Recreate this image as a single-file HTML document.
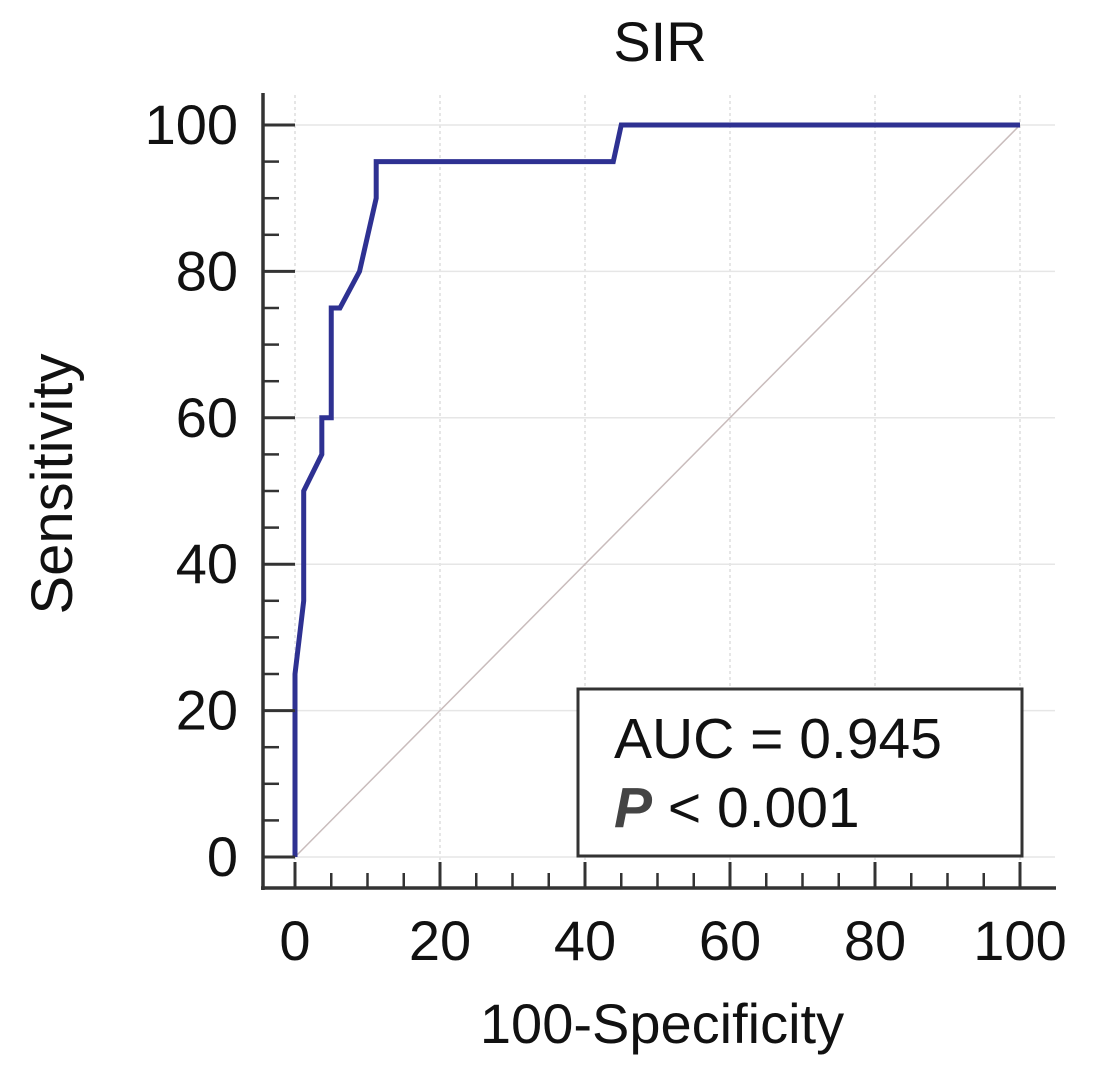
<!DOCTYPE html>
<html><head><meta charset="utf-8"><style>
html,body{margin:0;padding:0;background:#fff;}
svg{display:block;font-family:"Liberation Sans",Arial,sans-serif;}
</style></head><body>
<svg id="chart" width="1102" height="1084" viewBox="0 0 1102 1084" xmlns="http://www.w3.org/2000/svg">
<g id="grid"></g>
<line id="diag" stroke="#c9bcbc" stroke-width="1.5"/>
<polyline id="roc" fill="none" stroke="#2e3192" stroke-width="5" stroke-linejoin="miter"/>
<g id="axes"></g>
<text x="660" y="61" font-size="56" text-anchor="middle" fill="#111">SIR</text>
<text x="662" y="1043" font-size="56" text-anchor="middle" fill="#111">100-Specificity</text>
<text transform="translate(72,484) rotate(-90)" font-size="58" text-anchor="middle" fill="#111">Sensitivity</text>
<g>
<rect x="578" y="689" width="444" height="167" fill="#fff" stroke="#333" stroke-width="3"/>
<text x="614" y="758" font-size="57" fill="#111">AUC = 0.945</text>
<text x="614" y="827" font-size="57" fill="#111"><tspan font-style="italic" font-weight="bold" fill="#444">P</tspan> &lt; 0.001</text>
</g>
</svg>
<script>
const fprValues = [0, 0, 1.2, 1.2, 3.7, 3.7, 5.0, 5.0, 6.2, 8.9, 11.2, 11.2, 43.9, 45, 100];
const tprValues = [0, 25, 35, 50, 55, 60, 60, 75, 75, 80, 90, 95, 95, 100, 100];
const xTicks = [0, 20, 40, 60, 80, 100];
const yTicks = [0, 20, 40, 60, 80, 100];
const minorTicks = [5, 10, 15, 25, 30, 35, 45, 50, 55, 65, 70, 75, 85, 90, 95];

const NS = 'http://www.w3.org/2000/svg';
const xs = v => 295 + v * 7.25;
const ys = v => 857 - v * 7.32;
function mk(tag, attrs, parent) {
  const el = document.createElementNS(NS, tag);
  for (const k in attrs) el.setAttribute(k, attrs[k]);
  parent.appendChild(el);
  return el;
}
const grid = document.getElementById('grid');
const axes = document.getElementById('axes');
xTicks.forEach(t => {
  const g = mk('line', {x1: xs(t), x2: xs(t), y1: 95, y2: 887, stroke: '#ddd', 'stroke-width': 1.5, 'stroke-dasharray': '3,3'}, grid);
  
  
});
yTicks.forEach(t => {
  const g = mk('line', {x1: 263, x2: 1055, y1: ys(t), y2: ys(t), stroke: '#e6e6e6', 'stroke-width': 1.5}, grid);
  
  
});
const diag = document.getElementById('diag');
diag.setAttribute('x1', xs(0)); diag.setAttribute('y1', ys(0));
diag.setAttribute('x2', xs(100)); diag.setAttribute('y2', ys(100));
document.getElementById('roc').setAttribute('points', fprValues.map((f, i) => xs(f) + ',' + ys(tprValues[i])).join(' '));

const la = mk('line', {x1: 263, x2: 263, y1: 93, y2: 890, stroke: '#333', 'stroke-width': 3.5}, axes);


const ba = mk('line', {x1: 261, x2: 1056, y1: 888, y2: 888, stroke: '#333', 'stroke-width': 3.5}, axes);



xTicks.forEach(t => {
  const l = mk('line', {x1: xs(t), x2: xs(t), y1: 862, y2: 888, stroke: '#333', 'stroke-width': 3}, axes);
  
  
  const tx = mk('text', {x: xs(t), y: 960, 'font-size': 56, 'text-anchor': 'middle', fill: '#111'}, axes);
  tx.textContent = t;
  
  
});
yTicks.forEach(t => {
  const l = mk('line', {x1: 263, x2: 295, y1: ys(t), y2: ys(t), stroke: '#333', 'stroke-width': 3}, axes);
  
  
  const tx = mk('text', {x: 238, y: ys(t) + 19, 'font-size': 56, 'text-anchor': 'end', fill: '#111'}, axes);
  tx.textContent = t;
  
  
});
minorTicks.forEach(t => {
  const a = mk('line', {x1: xs(t), x2: xs(t), y1: 873, y2: 888, stroke: '#333', 'stroke-width': 2.5}, axes);
  
  
  const b = mk('line', {x1: 263, x2: 279, y1: ys(t), y2: ys(t), stroke: '#333', 'stroke-width': 2.5}, axes);
  
  
});
</script>
</body></html>
